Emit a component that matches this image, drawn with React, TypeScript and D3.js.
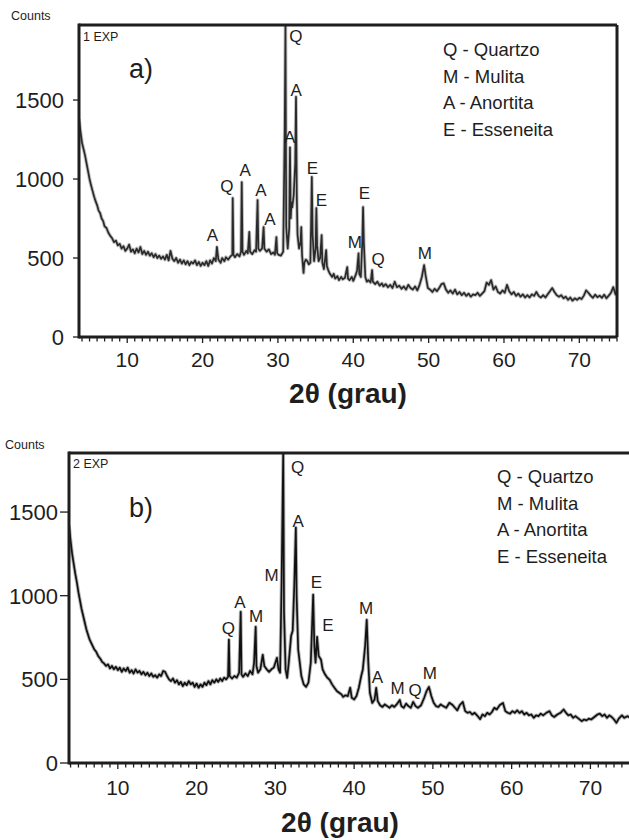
import React from "react";
import * as d3 from "d3";

// ---------------- DATA ----------------
const xTickValues = [10, 20, 30, 40, 50, 60, 70];
const yTickValues = [0, 500, 1000, 1500];
const phaseLegend = ["Q - Quartzo", "M - Mulita", "A - Anortita", "E - Esseneita"];
const axisTitle = "2θ (grau)";
const yAxisLabel = "Counts";

// pattern a) 1 EXP : [2θ, counts]
const patternA: [number, number][] = [
  [3.6, 1380], [3.8, 1300], [4.0, 1230], [4.2, 1190], [4.4, 1150], [4.6, 1100], [4.8, 1050], [5.0, 1000],
  [5.2, 960], [5.4, 925], [5.6, 890], [5.8, 860], [6.0, 835], [6.2, 800], [6.4, 785], [6.6, 750],
  [6.8, 735], [7.0, 700], [7.25, 690], [7.5, 660], [7.75, 640], [8.0, 625], [8.25, 600], [8.5, 610],
  [8.75, 580], [9.0, 590], [9.25, 560], [9.5, 575], [9.75, 545], [10.0, 560], [10.25, 585], [10.5, 540],
  [10.75, 555], [11.0, 530], [11.25, 560], [11.5, 535], [11.75, 570], [12.0, 525], [12.25, 545], [12.5, 520],
  [12.75, 540], [13.0, 515], [13.25, 530], [13.5, 505], [13.75, 525], [14.0, 500], [14.25, 515], [14.5, 495],
  [14.75, 510], [15.0, 490], [15.25, 520], [15.5, 485], [15.75, 545], [16.0, 495], [16.25, 480], [16.5, 500],
  [16.75, 470], [17.0, 490], [17.25, 465], [17.5, 485], [17.75, 460], [18.0, 480], [18.25, 455], [18.5, 475],
  [18.75, 465], [19.0, 485], [19.25, 455], [19.5, 475], [19.75, 450], [20.0, 470], [20.25, 455], [20.5, 480],
  [20.75, 450], [21.0, 485], [21.25, 465], [21.5, 500], [21.75, 480], [21.9, 570], [22.1, 490], [22.4, 470],
  [22.6, 500], [22.9, 480], [23.1, 505], [23.4, 490], [23.7, 510], [23.95, 520], [24.0, 880], [24.1, 520],
  [24.3, 505], [24.6, 525], [24.9, 510], [25.1, 540], [25.2, 980], [25.3, 540], [25.5, 520], [25.8, 545],
  [26.0, 530], [26.2, 665], [26.3, 540], [26.6, 525], [26.9, 550], [27.1, 540], [27.3, 867], [27.4, 560],
  [27.6, 545], [27.9, 560], [28.1, 696], [28.2, 560], [28.5, 540], [28.8, 555], [29.1, 525], [29.4, 535],
  [29.6, 520], [29.8, 633], [29.9, 530], [30.1, 520], [30.4, 515], [30.7, 540], [30.9, 1300], [31.0, 1970],
  [31.1, 700], [31.3, 560], [31.5, 690], [31.6, 1200], [31.7, 750], [31.8, 850], [31.9, 820], [32.1, 900],
  [32.3, 1100], [32.4, 1520], [32.5, 900], [32.6, 650], [32.8, 560], [33.0, 600], [33.1, 696], [33.2, 520],
  [33.4, 405], [33.5, 470], [33.7, 490], [33.9, 480], [34.1, 460], [34.3, 470], [34.4, 700], [34.5, 1013],
  [34.6, 650], [34.8, 480], [35.0, 560], [35.1, 816], [35.2, 580], [35.4, 480], [35.6, 500], [35.8, 645],
  [35.9, 470], [36.1, 430], [36.4, 550], [36.5, 450], [36.7, 420], [36.9, 400], [37.2, 380], [37.4, 400],
  [37.6, 370], [37.9, 385], [38.1, 360], [38.4, 380], [38.6, 365], [38.9, 375], [39.2, 443], [39.3, 370],
  [39.5, 360], [39.8, 380], [40.0, 355], [40.3, 390], [40.5, 420], [40.7, 530], [40.8, 400], [41.0, 380],
  [41.2, 600], [41.3, 823], [41.4, 600], [41.6, 380], [41.8, 350], [42.0, 360], [42.3, 345], [42.5, 424],
  [42.6, 350], [42.9, 335], [43.2, 350], [43.5, 325], [43.8, 340], [44.0, 320], [44.3, 335], [44.6, 315],
  [44.9, 330], [45.2, 310], [45.5, 350], [45.8, 315], [46.1, 325], [46.4, 305], [46.7, 320], [47.0, 300],
  [47.3, 330], [47.6, 310], [47.9, 300], [48.2, 320], [48.5, 295], [48.8, 330], [49.1, 380], [49.4, 455],
  [49.6, 390], [49.9, 310], [50.2, 300], [50.5, 285], [50.8, 305], [51.1, 290], [51.4, 310], [51.7, 335],
  [52.0, 340], [52.3, 300], [52.6, 280], [52.9, 295], [53.2, 275], [53.5, 300], [53.8, 270], [54.1, 285],
  [54.4, 265], [54.7, 280], [55.0, 260], [55.3, 275], [55.6, 255], [55.9, 270], [56.2, 265], [56.5, 280],
  [56.8, 260], [57.1, 275], [57.4, 290], [57.7, 345], [58.0, 330], [58.3, 360], [58.6, 300], [58.9, 320],
  [59.2, 285], [59.5, 275], [59.8, 295], [60.1, 280], [60.4, 330], [60.7, 290], [61.0, 270], [61.3, 285],
  [61.6, 260], [61.9, 275], [62.2, 255], [62.5, 270], [62.8, 250], [63.1, 265], [63.4, 250], [63.7, 270],
  [64.0, 260], [64.3, 285], [64.6, 260], [64.9, 250], [65.2, 265], [65.5, 250], [65.8, 270], [66.1, 290],
  [66.4, 310], [66.7, 285], [67.0, 265], [67.3, 255], [67.6, 265], [67.9, 245], [68.2, 255], [68.5, 235],
  [68.8, 250], [69.1, 230], [69.4, 245], [69.7, 235], [70.0, 248], [70.3, 240], [70.6, 262], [70.9, 295],
  [71.2, 280], [71.5, 262], [71.8, 248], [72.1, 268], [72.4, 252], [72.7, 262], [73.0, 248], [73.3, 268],
  [73.6, 245], [73.9, 262], [74.2, 280], [74.5, 316], [74.8, 270], [75.0, 290],
];

// pattern b) 2 EXP : [2θ, counts]
const patternB: [number, number][] = [
  [3.8, 1420], [4.0, 1330], [4.2, 1250], [4.4, 1190], [4.6, 1130], [4.8, 1080], [5.0, 1020], [5.2, 970],
  [5.4, 920], [5.6, 880], [5.8, 840], [6.0, 800], [6.2, 770], [6.4, 740], [6.6, 720], [6.8, 700],
  [7.0, 680], [7.25, 665], [7.5, 640], [7.75, 625], [8.0, 605], [8.25, 595], [8.5, 580], [8.75, 590],
  [9.0, 565], [9.25, 580], [9.5, 560], [9.75, 575], [10.0, 555], [10.25, 570], [10.5, 545], [10.75, 565],
  [11.0, 550], [11.25, 570], [11.5, 540], [11.75, 555], [12.0, 535], [12.25, 560], [12.5, 540], [12.75, 550],
  [13.0, 530], [13.25, 545], [13.5, 525], [13.75, 540], [14.0, 520], [14.25, 535], [14.5, 515], [14.75, 525],
  [15.0, 510], [15.25, 530], [15.5, 520], [15.75, 550], [16.0, 545], [16.25, 520], [16.5, 500], [16.75, 490],
  [17.0, 505], [17.25, 480], [17.5, 495], [17.75, 470], [18.0, 485], [18.25, 460], [18.5, 480], [18.75, 465],
  [19.0, 490], [19.25, 470], [19.5, 480], [19.75, 455], [20.0, 475], [20.25, 450], [20.5, 470], [20.75, 455],
  [21.0, 480], [21.25, 465], [21.5, 490], [21.75, 470], [22.0, 495], [22.25, 480], [22.5, 500], [22.75, 485],
  [23.0, 505], [23.25, 490], [23.5, 510], [23.75, 500], [24.0, 515], [24.1, 737], [24.2, 520], [24.5, 505],
  [24.8, 520], [25.1, 510], [25.4, 540], [25.6, 904], [25.7, 530], [25.9, 515], [26.2, 535], [26.5, 520],
  [26.8, 550], [27.1, 530], [27.3, 600], [27.5, 814], [27.6, 580], [27.8, 540], [28.1, 560], [28.4, 647],
  [28.6, 580], [28.9, 560], [29.2, 545], [29.5, 560], [29.8, 570], [30.2, 629], [30.4, 560], [30.6, 540],
  [30.8, 1100], [31.0, 1860], [31.1, 900], [31.3, 560], [31.5, 509], [31.7, 600], [32.0, 760], [32.2, 790],
  [32.4, 1054], [32.6, 1407], [32.7, 1000], [32.9, 677], [33.1, 600], [33.3, 520], [33.6, 470], [33.9, 455],
  [34.2, 480], [34.5, 600], [34.8, 1006], [34.95, 700], [35.1, 600], [35.3, 754], [35.5, 640], [35.8, 617],
  [36.0, 560], [36.3, 530], [36.6, 510], [36.9, 497], [37.2, 470], [37.5, 450], [37.8, 430], [38.1, 420],
  [38.4, 410], [38.6, 395], [38.9, 405], [39.2, 400], [39.5, 450], [39.7, 390], [40.0, 380], [40.3, 400],
  [40.6, 450], [40.9, 520], [41.1, 557], [41.4, 700], [41.6, 856], [41.8, 600], [42.0, 420], [42.3, 359],
  [42.6, 380], [42.8, 449], [43.0, 370], [43.3, 345], [43.6, 335], [43.9, 350], [44.2, 340], [44.5, 330],
  [44.8, 345], [45.1, 335], [45.4, 350], [45.8, 377], [46.0, 340], [46.3, 330], [46.6, 355], [46.9, 340],
  [47.2, 330], [47.5, 365], [47.8, 340], [48.1, 330], [48.5, 345], [48.9, 390], [49.2, 430], [49.5, 455],
  [49.8, 400], [50.1, 360], [50.4, 340], [50.7, 335], [51.0, 350], [51.3, 340], [51.7, 330], [52.1, 360],
  [52.5, 347], [52.8, 330], [53.1, 315], [53.4, 345], [53.8, 365], [54.1, 310], [54.4, 300], [54.7, 305],
  [55.0, 290], [55.3, 300], [55.6, 285], [56.0, 262], [56.3, 290], [56.6, 280], [56.9, 300], [57.2, 290],
  [57.5, 305], [57.8, 330], [58.1, 320], [58.5, 347], [58.9, 359], [59.2, 310], [59.5, 300], [59.8, 295],
  [60.1, 310], [60.4, 300], [60.7, 315], [61.0, 299], [61.3, 310], [61.6, 290], [61.9, 300], [62.2, 285],
  [62.5, 290], [62.8, 270], [63.1, 285], [63.4, 280], [63.7, 295], [64.0, 285], [64.4, 300], [64.8, 310],
  [65.1, 285], [65.4, 275], [65.8, 290], [66.2, 300], [66.6, 320], [66.9, 300], [67.2, 285], [67.5, 290],
  [67.8, 270], [68.1, 280], [68.5, 265], [68.9, 250], [69.2, 260], [69.5, 255], [69.8, 265], [70.1, 260],
  [70.5, 275], [70.9, 290], [71.2, 295], [71.5, 280], [71.8, 290], [72.1, 270], [72.4, 285], [72.7, 275],
  [73.0, 260], [73.3, 240], [73.6, 265], [74.0, 285], [74.3, 270], [74.7, 280], [75.0, 272],
];

// peak labels: [letter, 2θ, counts] (label anchor, data coordinates)
const peakLabelsA: [string, number, number][] = [
  ["A", 21.3, 609], ["Q", 23.24, 920], ["A", 25.65, 1019], ["A", 27.75, 892], ["A", 28.94, 709],
  ["A", 31.55, 1230], ["Q", 32.38, 1869], ["A", 32.43, 1525], ["E", 34.57, 1029], ["E", 35.78, 829],
  ["M", 40.22, 565], ["E", 41.48, 871], ["Q", 43.29, 456], ["M", 49.49, 494],
];
const peakLabelsB: [string, number, number][] = [
  ["Q", 24.02, 772], ["A", 25.5, 926], ["M", 27.55, 842], ["M", 29.52, 1086], ["Q", 32.84, 1735],
  ["A", 32.9, 1411], ["E", 35.21, 1046], ["E", 36.67, 792], ["M", 41.51, 892], ["A", 42.95, 477],
  ["M", 45.53, 413], ["Q", 47.75, 403], ["M", 49.61, 503],
];

// ---------------- DRAWING ----------------
const FONT = "Liberation Sans, Arial, Helvetica, sans-serif";
const INK = "#1e1e1e";

type PanelProps = {
  id: string;
  data: [number, number][];
  labels: [string, number, number][];
  expText: string;
  letter: string;
  left: number;
  right: number;
  top: number;
  bottom: number;
  xDomain: [number, number];
  yMax: number;
  rightBorder: boolean;
  yLabelRight: number;
  yTickLeft: number;
  xLabelOffset: number;
  countsX: number;
  countsY: number;
  letterY: number;
  expY: number;
  legendX: number;
  legendY: number;
  titleX: number;
  titleY: number;
  lineColor: string;
  haloColor: string;
};

function Panel(p: PanelProps) {
  const x = d3.scaleLinear().domain(p.xDomain).range([p.left, p.right]);
  const y = d3.scaleLinear().domain([0, p.yMax]).range([p.bottom, p.top]);
  const line = d3
    .line<[number, number]>()
    .x((d) => x(d[0]))
    .y((d) => y(d[1]));
  const minor = d3.range(Math.ceil(p.xDomain[0]), Math.floor(p.xDomain[1]) + 1);
  const clipId = `clip-${p.id}`;
  const d = line(p.data) || "";
  return (
    <g>
      <defs>
        <clipPath id={clipId}>
          <rect x={p.left} y={p.top} width={p.right - p.left} height={p.bottom - p.top} />
        </clipPath>
      </defs>
      <text x={p.countsX} y={p.countsY} fontSize={12.5} fontFamily={FONT} fill={INK}>
        {yAxisLabel}
      </text>
      <text x={p.left + 4} y={p.expY} fontSize={12.5} fontFamily={FONT} fill={INK}>
        {p.expText}
      </text>
      <text x={129} y={p.letterY} fontSize={27} fontFamily={FONT} fill={INK}>
        {p.letter}
      </text>
      {phaseLegend.map((t, i) => (
        <text key={t} x={p.legendX} y={p.legendY + i * 26.5} fontSize={18.5} fontFamily={FONT} fill={INK}>
          {t}
        </text>
      ))}
      <g clipPath={`url(#${clipId})`}>
        <path d={d} fill="none" stroke={p.haloColor} strokeOpacity={0.55} strokeWidth={3.6} strokeLinejoin="round" />
        <path d={d} fill="none" stroke={p.lineColor} strokeWidth={1.7} strokeLinejoin="round" />
      </g>
      {p.labels.map(([t, lx, ly], i) => (
        <text key={i} x={x(lx)} y={y(ly)} textAnchor="middle" fontSize={17} fontFamily={FONT} fill={INK}>
          {t}
        </text>
      ))}
      {/* frame */}
      <line x1={p.left} x2={p.right} y1={p.top} y2={p.top} stroke={INK} strokeWidth={3} />
      {p.rightBorder && <line x1={p.right} x2={p.right} y1={p.top} y2={p.bottom} stroke={INK} strokeWidth={3} />}
      <line x1={p.left} x2={p.left} y1={p.top - 1.5} y2={p.bottom + 1.5} stroke={INK} strokeWidth={3} />
      <line x1={p.left} x2={p.right} y1={p.bottom} y2={p.bottom} stroke={INK} strokeWidth={3} />
      {/* x ticks */}
      {minor.map((v) => (
        <line key={v} x1={x(v)} x2={x(v)} y1={p.bottom} y2={p.bottom + (v % 10 === 0 ? 6 : 4.5)} stroke={INK} strokeWidth={1.3} />
      ))}
      {xTickValues.map((v) => (
        <text key={v} x={x(v)} y={p.bottom + p.xLabelOffset} textAnchor="middle" fontSize={21} fontFamily={FONT} fill={INK}>
          {v}
        </text>
      ))}
      {/* y ticks */}
      {yTickValues.map((v) => (
        <g key={v}>
          <line x1={p.yTickLeft} x2={p.left} y1={y(v)} y2={y(v)} stroke={INK} strokeWidth={1.3} />
          <text x={p.yLabelRight} y={y(v)} dy="0.36em" textAnchor="end" fontSize={22} fontFamily={FONT} fill={INK}>
            {v}
          </text>
        </g>
      ))}
      <text x={p.titleX} y={p.titleY} textAnchor="middle" fontSize={28} fontWeight="bold" fontFamily={FONT} fill={INK}>
        {axisTitle}
      </text>
    </g>
  );
}

export default function App() {
  return (
    <svg
      width={629}
      height={840}
      viewBox="0 0 629 840"
      style={{ position: "absolute", left: 0, top: 0, background: "#fff" }}
    >
      <rect x={0} y={0} width={629} height={840} fill="#fff" />
      <Panel
        id="a"
        data={patternA}
        labels={peakLabelsA}
        expText="1 EXP"
        letter="a)"
        left={79}
        right={617}
        top={25}
        bottom={337}
        xDomain={[3.6, 75.0]}
        yMax={1975}
        rightBorder={true}
        yLabelRight={64}
        yTickLeft={73}
        xLabelOffset={30}
        countsX={11}
        countsY={20}
        letterY={78}
        expY={41}
        legendX={443}
        legendY={56}
        titleX={348}
        titleY={403}
        lineColor="#2a2a2a"
        haloColor="#8c8c8c"
      />
      <Panel
        id="b"
        data={patternB}
        labels={peakLabelsB}
        expText="2 EXP"
        letter="b)"
        left={69}
        right={629}
        top={453}
        bottom={763}
        xDomain={[3.8, 74.9]}
        yMax={1853}
        rightBorder={false}
        yLabelRight={58}
        yTickLeft={60}
        xLabelOffset={32}
        countsX={5}
        countsY={449}
        letterY={517}
        expY={468}
        legendX={497}
        legendY={483}
        titleX={340}
        titleY={832}
        lineColor="#111"
        haloColor="#777"
      />
    </svg>
  );
}
